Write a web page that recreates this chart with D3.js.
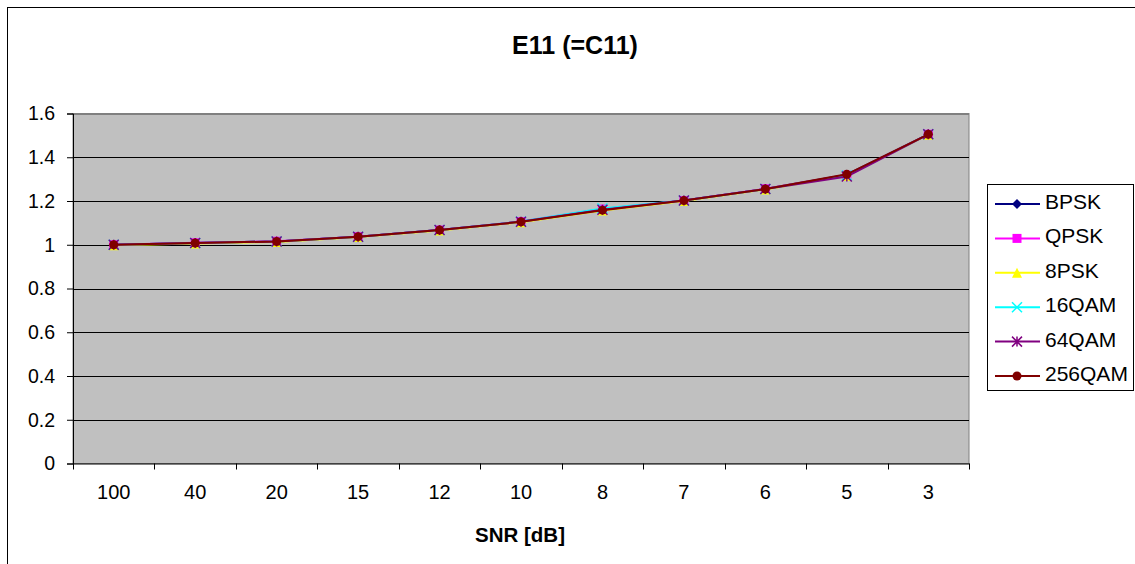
<!DOCTYPE html>
<html>
<head>
<meta charset="utf-8">
<script src="https://cdn.jsdelivr.net/npm/d3@7"></script>
<style>
  body { margin: 0; background: #fff; }
  text { font-family: Arial, "Liberation Sans", sans-serif; }
</style>
</head>
<body>
<svg id="chart" width="1135" height="564"></svg>
<script>
// categories (SNR in dB, shown in this order)
var snrLabels = ['100', '40', '20', '15', '12', '10', '8', '7', '6', '5', '3'];
var yTicks = [0, 0.2, 0.4, 0.6, 0.8, 1, 1.2, 1.4, 1.6];

// series values
var bpsk   = [1.000, 1.008, 1.015, 1.037, 1.067, 1.105, 1.160, 1.202, 1.255, 1.320, 1.505];
var qpsk   = [1.000, 1.009, 1.016, 1.037, 1.067, 1.106, 1.163, 1.202, 1.256, 1.318, 1.505];
var psk8   = [0.998, 1.006, 1.013, 1.035, 1.065, 1.103, 1.157, 1.200, 1.253, 1.316, 1.503];
var qam16  = [1.000, 1.008, 1.015, 1.037, 1.067, 1.106, 1.166, 1.202, 1.255, 1.316, 1.505];
var qam64  = [1.000, 1.008, 1.015, 1.037, 1.067, 1.105, 1.160, 1.202, 1.255, 1.312, 1.505];
var qam256 = [1.000, 1.008, 1.015, 1.037, 1.067, 1.105, 1.158, 1.202, 1.255, 1.322, 1.505];

var seriesNames = ['BPSK', 'QPSK', '8PSK', '16QAM', '64QAM', '256QAM'];
var seriesColors = ['#000080', '#FF00FF', '#FFFF00', '#00FFFF', '#800080', '#800000'];
var seriesMarkers = ['diamond', 'square', 'triangle', 'x', 'star', 'circle'];
var seriesValues = [bpsk, qpsk, psk8, qam16, qam64, qam256];

var svg = d3.select('#chart');

// outer chart border
svg.append('rect')
  .attr('x', 7.5).attr('y', 7.5)
  .attr('width', 1140).attr('height', 570)
  .attr('fill', '#fff').attr('stroke', '#000').attr('stroke-width', 1);

var plot = { left: 73, top: 113.5, right: 969, bottom: 463.5 };

var x = d3.scaleBand()
  .domain(snrLabels)
  .range([plot.left, plot.right]);

var y = d3.scaleLinear()
  .domain([0, 1.6])
  .range([plot.bottom, plot.top]);

// plot area
svg.append('rect')
  .attr('x', plot.left).attr('y', plot.top)
  .attr('width', plot.right - plot.left).attr('height', plot.bottom - plot.top)
  .attr('fill', '#C0C0C0').attr('stroke', '#808080').attr('stroke-width', 1);

// gridlines
svg.append('g')
  .selectAll('line')
  .data(yTicks.filter(function(d) { return d > 0; }))
  .enter()
  .append('line')
  .attr('x1', plot.left).attr('x2', plot.right)
  .attr('y1', function(d) { return Math.round(y(d)) + 0.5; })
  .attr('y2', function(d) { return Math.round(y(d)) + 0.5; })
  .attr('stroke', function(d) { return d === 1.6 ? '#808080' : '#000'; })
  .attr('stroke-width', 1);

// y axis
var yAxis = svg.append('g')
  .attr('transform', 'translate(' + plot.left + ',0)')
  .call(d3.axisLeft(y).tickValues(yTicks).tickSize(6).tickPadding(12)
    .tickFormat(function(d) { return String(+d.toFixed(1)); }));
yAxis.selectAll('text').attr('font-size', 19.5).attr('fill', '#000');
yAxis.selectAll('line').attr('stroke', '#000');
yAxis.select('.domain').attr('stroke', '#000');

// x axis
var xAxis = svg.append('g')
  .attr('transform', 'translate(0,' + plot.bottom + ')')
  .call(d3.axisBottom(x).tickSize(0).tickPadding(21));
xAxis.selectAll('text').attr('font-size', 20).attr('fill', '#000');
xAxis.select('.domain').attr('stroke', '#000');

// category separators (ticks between bands)
svg.append('g')
  .selectAll('line')
  .data(snrLabels.concat(['end']))
  .enter()
  .append('line')
  .attr('x1', function(d, i) { return Math.round(plot.left + i * x.step()) + 0.5; })
  .attr('x2', function(d, i) { return Math.round(plot.left + i * x.step()) + 0.5; })
  .attr('y1', plot.bottom).attr('y2', plot.bottom + 6)
  .attr('stroke', '#000');

// title and axis label
svg.append('text')
  .attr('x', 575).attr('y', 54)
  .attr('text-anchor', 'middle')
  .attr('font-size', 25).attr('font-weight', 'bold')
  .text('E11 (=C11)');

svg.append('text')
  .attr('x', 520).attr('y', 542)
  .attr('text-anchor', 'middle')
  .attr('font-size', 20.5).attr('font-weight', 'bold')
  .text('SNR [dB]');

function drawMarker(g, type, color, size) {
  var s = size;
  if (type === 'diamond') {
    g.append('path').attr('d', 'M0,' + (-s) + 'L' + s + ',0L0,' + s + 'L' + (-s) + ',0Z').attr('fill', color);
  } else if (type === 'square') {
    g.append('rect').attr('x', -s + 0.5).attr('y', -s + 0.5).attr('width', 2 * s - 1).attr('height', 2 * s - 1).attr('fill', color);
  } else if (type === 'triangle') {
    g.append('path').attr('d', 'M0,' + (-s) + 'L' + s + ',' + s + 'L' + (-s) + ',' + s + 'Z').attr('fill', color);
  } else if (type === 'x') {
    g.append('path').attr('d', 'M' + (-s) + ',' + (-s) + 'L' + s + ',' + s + 'M' + (-s) + ',' + s + 'L' + s + ',' + (-s))
      .attr('stroke', color).attr('stroke-width', 1.5).attr('fill', 'none');
  } else if (type === 'star') {
    g.append('path').attr('d', 'M' + (-s) + ',' + (-s) + 'L' + s + ',' + s + 'M' + (-s) + ',' + s + 'L' + s + ',' + (-s) + 'M0,' + (-s) + 'L0,' + s)
      .attr('stroke', color).attr('stroke-width', 1.5).attr('fill', 'none');
  } else {
    g.append('circle').attr('r', s - 0.5).attr('fill', color);
  }
}

var line = d3.line()
  .x(function(d, i) { return x(snrLabels[i]) + x.bandwidth() / 2; })
  .y(function(d) { return y(d); });

seriesValues.forEach(function(vals, si) {
  var g = svg.append('g').attr('class', 'series');
  g.append('path')
    .datum(vals)
    .attr('d', line)
    .attr('fill', 'none')
    .attr('stroke', seriesColors[si])
    .attr('stroke-width', 2);
  vals.forEach(function(v, i) {
    var m = g.append('g')
      .attr('transform', 'translate(' + (x(snrLabels[i]) + x.bandwidth() / 2) + ',' + y(v) + ')');
    drawMarker(m, seriesMarkers[si], seriesColors[si], 5);
  });
});

// legend
var legend = svg.append('g');
legend.append('rect')
  .attr('x', 987.5).attr('y', 184.5)
  .attr('width', 146).attr('height', 206)
  .attr('fill', '#fff').attr('stroke', '#000');

seriesNames.forEach(function(name, i) {
  var ly = 204 + i * 34.4;
  var lg = legend.append('g');
  lg.append('line')
    .attr('x1', 995).attr('x2', 1040)
    .attr('y1', ly).attr('y2', ly)
    .attr('stroke', seriesColors[i]).attr('stroke-width', 2);
  var m = lg.append('g').attr('transform', 'translate(1017,' + ly + ')');
  drawMarker(m, seriesMarkers[i], seriesColors[i], 5);
  lg.append('text')
    .attr('x', 1045).attr('y', ly + 5)
    .attr('font-size', 21)
    .text(name);
});
</script>
</body>
</html>
